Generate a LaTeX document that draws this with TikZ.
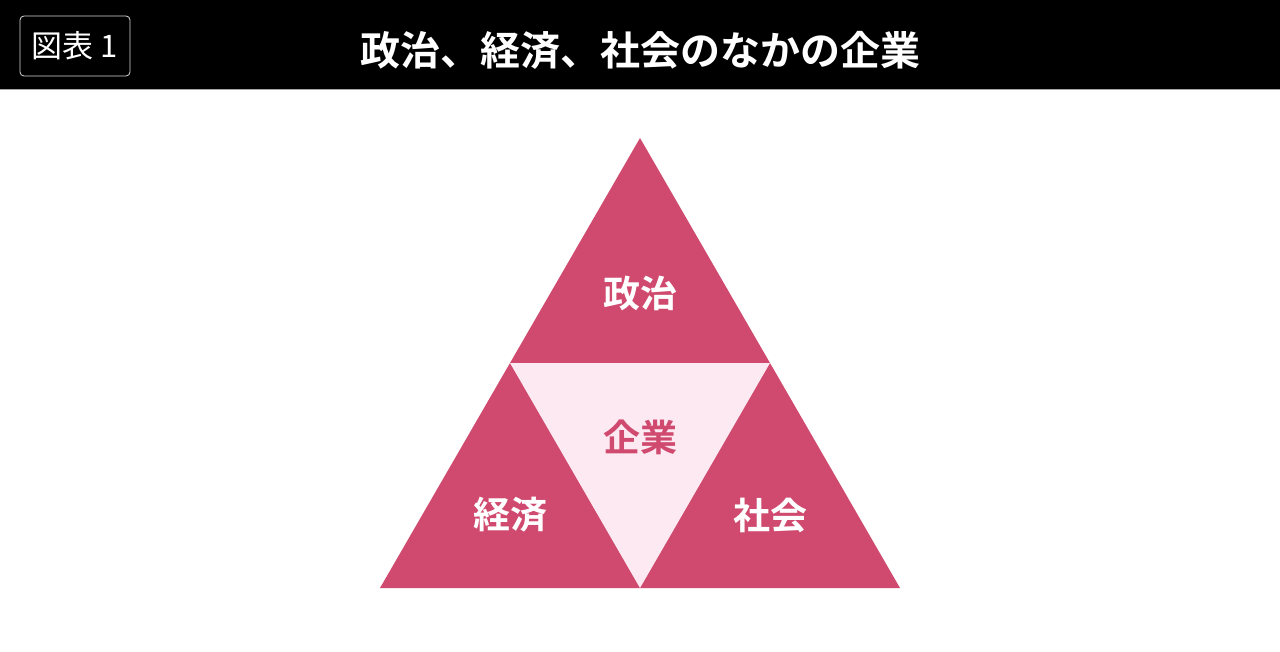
\documentclass[tikz,border=0pt]{standalone}
\usepackage{fontspec}
\newfontfamily\jp{Noto Sans CJK JP}
\newfontfamily\jpb{Noto Sans CJK JP Bold}
\definecolor{dpink}{HTML}{CF4A6E}
\definecolor{lpink}{HTML}{FDE9F2}
\begin{document}
\begin{tikzpicture}[x=1pt,y=-1pt,
  lbl/.style={font=\jpb\fontsize{37}{40}\selectfont,text=white,inner sep=0pt},
  ttl/.style={font=\jpb\fontsize{40}{44}\selectfont,text=white,inner sep=0pt}]
\useasboundingbox (0,0) rectangle (1280,652);
\fill[white] (0,0) rectangle (1280,652);
\fill[black] (0,0) rectangle (1280,90);
\draw[gray!70,line width=1pt] (0,90) -- (1280,90);
\node[draw=white!85!black,rounded corners=4pt,line width=0.8pt,minimum width=110pt,minimum height=60pt,inner sep=0pt,text=white,font=\jp\fontsize{31}{34}\selectfont] (tag) at (75,46) {図表 1};
\node[ttl] (title) at (640,50) {政治、経済、社会のなかの企業};
\coordinate (A) at (640,138);
\coordinate (B) at (380,588);
\coordinate (C) at (900,588);
\coordinate (AB) at (510,363);
\coordinate (AC) at (770,363);
\coordinate (BC) at (640,588);
\fill[dpink] (A) -- (B) -- (C) -- cycle;
\fill[lpink] (AB) -- (AC) -- (BC) -- cycle;
\node[lbl] (pol) at (640,293) {政治};
\node[lbl,text=dpink] (ent) at (640,437) {企業};
\node[lbl] (eco) at (510,515) {経済};
\node[lbl] (soc) at (770,515) {社会};
\end{tikzpicture}
\end{document}
